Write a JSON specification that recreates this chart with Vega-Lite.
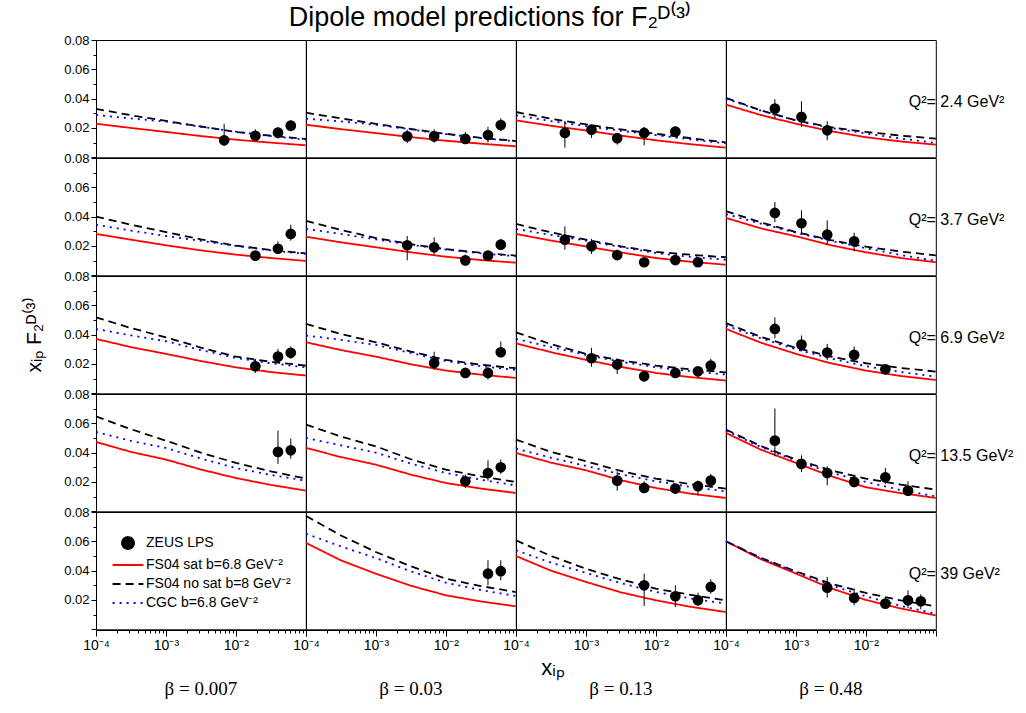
{
"$schema":"https://vega.github.io/schema/vega-lite/v6.json",
"padding":{"left":23,"top":4,"right":5,"bottom":5},
"bounds":"flush",
"title":{"text":"Dipole model predictions for F₂ᴰ⁽³⁾","font":"Liberation Sans","fontSize":27,"fontWeight":"normal","color":"black","anchor":"middle","frame":"bounds","offset":2,"dx":-29},
"data":{"values":[
{"b":1,"q":1,"x":0.0001,"r":0.0229,"d":0.033,"c":0.0289},{"b":1,"q":1,"x":0.000316,"r":0.02,"d":0.0287,"c":0.0265},{"b":1,"q":1,"x":0.001,"r":0.0173,"d":0.0248,"c":0.0243},{"b":1,"q":1,"x":0.00316,"r":0.0145,"d":0.021,"c":0.0208},{"b":1,"q":1,"x":0.01,"r":0.012,"d":0.0173,"c":0.0175},{"b":1,"q":1,"x":0.0316,"r":0.01,"d":0.0147,"c":0.0145},{"b":1,"q":1,"x":0.1,"r":0.0082,"d":0.0125,"c":0.012},
{"b":2,"q":1,"x":0.0001,"r":0.0222,"d":0.0304,"c":0.0263},{"b":2,"q":1,"x":0.000316,"r":0.0192,"d":0.0265,"c":0.0245},{"b":2,"q":1,"x":0.001,"r":0.0165,"d":0.0228,"c":0.0222},{"b":2,"q":1,"x":0.00316,"r":0.0138,"d":0.0193,"c":0.019},{"b":2,"q":1,"x":0.01,"r":0.0113,"d":0.016,"c":0.0158},{"b":2,"q":1,"x":0.0316,"r":0.0093,"d":0.0133,"c":0.0131},{"b":2,"q":1,"x":0.1,"r":0.0075,"d":0.0111,"c":0.0109},
{"b":3,"q":1,"x":0.0001,"r":0.0252,"d":0.0309,"c":0.0286},{"b":3,"q":1,"x":0.000316,"r":0.0215,"d":0.0263,"c":0.0247},{"b":3,"q":1,"x":0.001,"r":0.0183,"d":0.0224,"c":0.0213},{"b":3,"q":1,"x":0.00316,"r":0.0148,"d":0.019,"c":0.0181},{"b":3,"q":1,"x":0.01,"r":0.0116,"d":0.016,"c":0.0151},{"b":3,"q":1,"x":0.0316,"r":0.0089,"d":0.013,"c":0.0122},{"b":3,"q":1,"x":0.1,"r":0.0066,"d":0.0102,"c":0.0095},
{"b":4,"q":1,"x":0.0001,"r":0.0359,"d":0.0405,"c":0.04},{"b":4,"q":1,"x":0.000316,"r":0.0288,"d":0.032,"c":0.0318},{"b":4,"q":1,"x":0.001,"r":0.0229,"d":0.0252,"c":0.025},{"b":4,"q":1,"x":0.00316,"r":0.0178,"d":0.0205,"c":0.02},{"b":4,"q":1,"x":0.01,"r":0.0137,"d":0.0173,"c":0.0163},{"b":4,"q":1,"x":0.0316,"r":0.0108,"d":0.0148,"c":0.0128},{"b":4,"q":1,"x":0.1,"r":0.0086,"d":0.0127,"c":0.0098},
{"b":1,"q":2,"x":0.0001,"r":0.0282,"d":0.04,"c":0.0345},{"b":1,"q":2,"x":0.000316,"r":0.0243,"d":0.0345,"c":0.0305},{"b":1,"q":2,"x":0.001,"r":0.0205,"d":0.0295,"c":0.0268},{"b":1,"q":2,"x":0.00316,"r":0.017,"d":0.0245,"c":0.0235},{"b":1,"q":2,"x":0.01,"r":0.0141,"d":0.0202,"c":0.02},{"b":1,"q":2,"x":0.0316,"r":0.0118,"d":0.0173,"c":0.017},{"b":1,"q":2,"x":0.1,"r":0.0098,"d":0.015,"c":0.0146},
{"b":2,"q":2,"x":0.0001,"r":0.0263,"d":0.0372,"c":0.0316},{"b":2,"q":2,"x":0.000316,"r":0.0225,"d":0.031,"c":0.0282},{"b":2,"q":2,"x":0.001,"r":0.0191,"d":0.0254,"c":0.0245},{"b":2,"q":2,"x":0.00316,"r":0.0157,"d":0.0212,"c":0.0208},{"b":2,"q":2,"x":0.01,"r":0.0127,"d":0.0178,"c":0.0175},{"b":2,"q":2,"x":0.0316,"r":0.0104,"d":0.0154,"c":0.015},{"b":2,"q":2,"x":0.1,"r":0.0086,"d":0.0134,"c":0.013},
{"b":3,"q":2,"x":0.0001,"r":0.0282,"d":0.035,"c":0.0316},{"b":3,"q":2,"x":0.000316,"r":0.0237,"d":0.0293,"c":0.0275},{"b":3,"q":2,"x":0.001,"r":0.0197,"d":0.0243,"c":0.0237},{"b":3,"q":2,"x":0.00316,"r":0.0156,"d":0.0198,"c":0.0192},{"b":3,"q":2,"x":0.01,"r":0.0118,"d":0.016,"c":0.0152},{"b":3,"q":2,"x":0.0316,"r":0.0092,"d":0.014,"c":0.0126},{"b":3,"q":2,"x":0.1,"r":0.0072,"d":0.0123,"c":0.0106},
{"b":4,"q":2,"x":0.0001,"r":0.0391,"d":0.0437,"c":0.0418},{"b":4,"q":2,"x":0.000316,"r":0.032,"d":0.036,"c":0.0352},{"b":4,"q":2,"x":0.001,"r":0.0266,"d":0.0295,"c":0.029},{"b":4,"q":2,"x":0.00316,"r":0.0205,"d":0.024,"c":0.0235},{"b":4,"q":2,"x":0.01,"r":0.0157,"d":0.0195,"c":0.0185},{"b":4,"q":2,"x":0.0316,"r":0.0118,"d":0.0162,"c":0.0138},{"b":4,"q":2,"x":0.1,"r":0.0089,"d":0.0136,"c":0.01},
{"b":1,"q":3,"x":0.0001,"r":0.0371,"d":0.0518,"c":0.0439},{"b":1,"q":3,"x":0.000316,"r":0.0315,"d":0.0445,"c":0.0395},{"b":1,"q":3,"x":0.001,"r":0.0269,"d":0.0382,"c":0.0355},{"b":1,"q":3,"x":0.00316,"r":0.022,"d":0.0312,"c":0.0295},{"b":1,"q":3,"x":0.01,"r":0.0177,"d":0.025,"c":0.0241},{"b":1,"q":3,"x":0.0316,"r":0.0145,"d":0.0215,"c":0.0205},{"b":1,"q":3,"x":0.1,"r":0.0121,"d":0.0189,"c":0.0177},
{"b":2,"q":3,"x":0.0001,"r":0.0348,"d":0.0473,"c":0.0394},{"b":2,"q":3,"x":0.000316,"r":0.0295,"d":0.0405,"c":0.0365},{"b":2,"q":3,"x":0.001,"r":0.025,"d":0.0348,"c":0.033},{"b":2,"q":3,"x":0.00316,"r":0.0198,"d":0.0285,"c":0.0275},{"b":2,"q":3,"x":0.01,"r":0.0155,"d":0.0228,"c":0.022},{"b":2,"q":3,"x":0.0316,"r":0.0127,"d":0.0195,"c":0.0185},{"b":2,"q":3,"x":0.1,"r":0.0105,"d":0.0171,"c":0.016},
{"b":3,"q":3,"x":0.0001,"r":0.0341,"d":0.0416,"c":0.0371},{"b":3,"q":3,"x":0.000316,"r":0.028,"d":0.0335,"c":0.0315},{"b":3,"q":3,"x":0.001,"r":0.0228,"d":0.0269,"c":0.0262},{"b":3,"q":3,"x":0.00316,"r":0.018,"d":0.0225,"c":0.0215},{"b":3,"q":3,"x":0.01,"r":0.0139,"d":0.0189,"c":0.0178},{"b":3,"q":3,"x":0.0316,"r":0.011,"d":0.0163,"c":0.015},{"b":3,"q":3,"x":0.1,"r":0.0087,"d":0.0143,"c":0.0128},
{"b":4,"q":3,"x":0.0001,"r":0.0439,"d":0.0478,"c":0.0462},{"b":4,"q":3,"x":0.000316,"r":0.0345,"d":0.0385,"c":0.0375},{"b":4,"q":3,"x":0.001,"r":0.0269,"d":0.031,"c":0.03},{"b":4,"q":3,"x":0.00316,"r":0.0205,"d":0.025,"c":0.0238},{"b":4,"q":3,"x":0.01,"r":0.0155,"d":0.0205,"c":0.0185},{"b":4,"q":3,"x":0.0316,"r":0.0118,"d":0.0173,"c":0.0145},{"b":4,"q":3,"x":0.1,"r":0.0091,"d":0.0148,"c":0.0114},
{"b":1,"q":4,"x":0.0001,"r":0.0473,"d":0.0648,"c":0.0541},{"b":1,"q":4,"x":0.000316,"r":0.0405,"d":0.056,"c":0.048},{"b":1,"q":4,"x":0.001,"r":0.0353,"d":0.0482,"c":0.0432},{"b":1,"q":4,"x":0.00316,"r":0.0285,"d":0.04,"c":0.036},{"b":1,"q":4,"x":0.01,"r":0.0227,"d":0.033,"c":0.0295},{"b":1,"q":4,"x":0.0316,"r":0.018,"d":0.0273,"c":0.0248},{"b":1,"q":4,"x":0.1,"r":0.0141,"d":0.0223,"c":0.0209},
{"b":2,"q":4,"x":0.0001,"r":0.0432,"d":0.0591,"c":0.05},{"b":2,"q":4,"x":0.000316,"r":0.037,"d":0.051,"c":0.045},{"b":2,"q":4,"x":0.001,"r":0.0318,"d":0.0443,"c":0.04},{"b":2,"q":4,"x":0.00316,"r":0.025,"d":0.0355,"c":0.0325},{"b":2,"q":4,"x":0.01,"r":0.0193,"d":0.0284,"c":0.0262},{"b":2,"q":4,"x":0.0316,"r":0.0155,"d":0.0238,"c":0.0215},{"b":2,"q":4,"x":0.1,"r":0.0125,"d":0.02,"c":0.0177},
{"b":3,"q":4,"x":0.0001,"r":0.0398,"d":0.0489,"c":0.0428},{"b":3,"q":4,"x":0.000316,"r":0.0332,"d":0.0405,"c":0.0365},{"b":3,"q":4,"x":0.001,"r":0.028,"d":0.0341,"c":0.031},{"b":3,"q":4,"x":0.00316,"r":0.0212,"d":0.0275,"c":0.0252},{"b":3,"q":4,"x":0.01,"r":0.0159,"d":0.0223,"c":0.0205},{"b":3,"q":4,"x":0.0316,"r":0.012,"d":0.0185,"c":0.0166},{"b":3,"q":4,"x":0.1,"r":0.0091,"d":0.0155,"c":0.0136},
{"b":4,"q":4,"x":0.0001,"r":0.0534,"d":0.0557,"c":0.055},{"b":4,"q":4,"x":0.000316,"r":0.042,"d":0.0445,"c":0.0438},{"b":4,"q":4,"x":0.001,"r":0.033,"d":0.0353,"c":0.0345},{"b":4,"q":4,"x":0.00316,"r":0.024,"d":0.028,"c":0.0265},{"b":4,"q":4,"x":0.01,"r":0.0164,"d":0.0223,"c":0.02},{"b":4,"q":4,"x":0.0316,"r":0.0124,"d":0.0182,"c":0.0145},{"b":4,"q":4,"x":0.1,"r":0.0091,"d":0.0148,"c":0.0102},
{"b":2,"q":5,"x":0.0001,"r":0.0589,"d":0.0773,"c":0.0652},{"b":2,"q":5,"x":0.000316,"r":0.047,"d":0.064,"c":0.0565},{"b":2,"q":5,"x":0.001,"r":0.0379,"d":0.0527,"c":0.0486},{"b":2,"q":5,"x":0.00316,"r":0.0297,"d":0.043,"c":0.0395},{"b":2,"q":5,"x":0.01,"r":0.0232,"d":0.0345,"c":0.0318},{"b":2,"q":5,"x":0.0316,"r":0.019,"d":0.0295,"c":0.0268},{"b":2,"q":5,"x":0.1,"r":0.0157,"d":0.0254,"c":0.0227},
{"b":3,"q":5,"x":0.0001,"r":0.05,"d":0.0607,"c":0.0539},{"b":3,"q":5,"x":0.000316,"r":0.04,"d":0.05,"c":0.0455},{"b":3,"q":5,"x":0.001,"r":0.0323,"d":0.0413,"c":0.0385},{"b":3,"q":5,"x":0.00316,"r":0.0252,"d":0.034,"c":0.0315},{"b":3,"q":5,"x":0.01,"r":0.0198,"d":0.0277,"c":0.0255},{"b":3,"q":5,"x":0.0316,"r":0.0153,"d":0.0235,"c":0.021},{"b":3,"q":5,"x":0.1,"r":0.0118,"d":0.0198,"c":0.0175},
{"b":4,"q":5,"x":0.0001,"r":0.06,"d":0.06,"c":0.06},{"b":4,"q":5,"x":0.000316,"r":0.0478,"d":0.0487,"c":0.0483},{"b":4,"q":5,"x":0.001,"r":0.038,"d":0.0395,"c":0.039},{"b":4,"q":5,"x":0.00316,"r":0.028,"d":0.0312,"c":0.03},{"b":4,"q":5,"x":0.01,"r":0.02,"d":0.0248,"c":0.0225},{"b":4,"q":5,"x":0.0316,"r":0.0142,"d":0.0197,"c":0.016},{"b":4,"q":5,"x":0.1,"r":0.0095,"d":0.0157,"c":0.0106},
{"b":1,"q":5},
{"b":1,"q":1,"x":0.0068,"p":0.0116,"lo":0.0078,"hi":0.0229},{"b":1,"q":1,"x":0.019,"p":0.0147,"lo":0.0116,"hi":0.0191},{"b":1,"q":1,"x":0.04,"p":0.0168,"lo":0.0127,"hi":0.0207},{"b":1,"q":1,"x":0.061,"p":0.0216,"lo":0.0177,"hi":0.0252},
{"b":2,"q":1,"x":0.0028,"p":0.0143,"lo":0.0098,"hi":0.0188},{"b":2,"q":1,"x":0.0068,"p":0.0143,"lo":0.01,"hi":0.0191},{"b":2,"q":1,"x":0.019,"p":0.0125,"lo":0.0093,"hi":0.0171},{"b":2,"q":1,"x":0.04,"p":0.0152,"lo":0.01,"hi":0.0207},{"b":2,"q":1,"x":0.061,"p":0.022,"lo":0.0179,"hi":0.0266},
{"b":3,"q":1,"x":0.0005,"p":0.0166,"lo":0.0066,"hi":0.0248},{"b":3,"q":1,"x":0.0012,"p":0.0188,"lo":0.0132,"hi":0.0222},{"b":3,"q":1,"x":0.0028,"p":0.013,"lo":0.0086,"hi":0.0161},{"b":3,"q":1,"x":0.0068,"p":0.0166,"lo":0.0082,"hi":0.0207},{"b":3,"q":1,"x":0.019,"p":0.0175,"lo":0.0143,"hi":0.0211},
{"b":4,"q":1,"x":0.0005,"p":0.0332,"lo":0.0261,"hi":0.0396},{"b":4,"q":1,"x":0.0012,"p":0.0275,"lo":0.0207,"hi":0.0382},{"b":4,"q":1,"x":0.0028,"p":0.0184,"lo":0.0116,"hi":0.0246},
{"b":1,"q":2,"x":0.019,"p":0.0134,"lo":0.0106,"hi":0.0157},{"b":1,"q":2,"x":0.04,"p":0.0181,"lo":0.0145,"hi":0.0232},{"b":1,"q":2,"x":0.061,"p":0.0282,"lo":0.0236,"hi":0.0345},
{"b":2,"q":2,"x":0.0028,"p":0.0205,"lo":0.0102,"hi":0.0268},{"b":2,"q":2,"x":0.0068,"p":0.0191,"lo":0.0141,"hi":0.0259},{"b":2,"q":2,"x":0.019,"p":0.0102,"lo":0.0068,"hi":0.0141},{"b":2,"q":2,"x":0.04,"p":0.0134,"lo":0.0106,"hi":0.0164},{"b":2,"q":2,"x":0.061,"p":0.0209,"lo":0.0181,"hi":0.0248},
{"b":3,"q":2,"x":0.0005,"p":0.0243,"lo":0.0175,"hi":0.0334},{"b":3,"q":2,"x":0.0012,"p":0.0198,"lo":0.0145,"hi":0.0248},{"b":3,"q":2,"x":0.0028,"p":0.0138,"lo":0.0106,"hi":0.0175},{"b":3,"q":2,"x":0.0068,"p":0.0089,"lo":0.0081,"hi":0.0097},{"b":3,"q":2,"x":0.019,"p":0.0104,"lo":0.0096,"hi":0.0112},{"b":3,"q":2,"x":0.04,"p":0.0089,"lo":0.0079,"hi":0.0099},
{"b":4,"q":2,"x":0.0005,"p":0.0425,"lo":0.0362,"hi":0.05},{"b":4,"q":2,"x":0.0012,"p":0.0355,"lo":0.0286,"hi":0.0443},{"b":4,"q":2,"x":0.0028,"p":0.0277,"lo":0.0205,"hi":0.0375},{"b":4,"q":2,"x":0.0068,"p":0.0232,"lo":0.0164,"hi":0.0291},
{"b":1,"q":3,"x":0.019,"p":0.0184,"lo":0.0139,"hi":0.0235},{"b":1,"q":3,"x":0.04,"p":0.025,"lo":0.0211,"hi":0.0303},{"b":1,"q":3,"x":0.061,"p":0.0276,"lo":0.0235,"hi":0.0319},
{"b":2,"q":3,"x":0.0068,"p":0.0207,"lo":0.016,"hi":0.0284},{"b":2,"q":3,"x":0.019,"p":0.0139,"lo":0.013,"hi":0.015},{"b":2,"q":3,"x":0.04,"p":0.0139,"lo":0.0093,"hi":0.0177},{"b":2,"q":3,"x":0.061,"p":0.028,"lo":0.0246,"hi":0.0353},
{"b":3,"q":3,"x":0.0012,"p":0.0239,"lo":0.0182,"hi":0.031},{"b":3,"q":3,"x":0.0028,"p":0.0196,"lo":0.0132,"hi":0.0235},{"b":3,"q":3,"x":0.0068,"p":0.0116,"lo":0.0108,"hi":0.0124},{"b":3,"q":3,"x":0.019,"p":0.0139,"lo":0.0116,"hi":0.015},{"b":3,"q":3,"x":0.04,"p":0.015,"lo":0.0109,"hi":0.0177},{"b":3,"q":3,"x":0.061,"p":0.0189,"lo":0.015,"hi":0.0235},
{"b":4,"q":3,"x":0.0005,"p":0.0439,"lo":0.0375,"hi":0.0518},{"b":4,"q":3,"x":0.0012,"p":0.0332,"lo":0.0287,"hi":0.0394},{"b":4,"q":3,"x":0.0028,"p":0.0278,"lo":0.0228,"hi":0.0337},{"b":4,"q":3,"x":0.0068,"p":0.0262,"lo":0.0218,"hi":0.0319},{"b":4,"q":3,"x":0.019,"p":0.0164,"lo":0.0128,"hi":0.0189},
{"b":1,"q":4,"x":0.04,"p":0.0405,"lo":0.0323,"hi":0.055},{"b":1,"q":4,"x":0.061,"p":0.0416,"lo":0.0359,"hi":0.0496},
{"b":2,"q":4,"x":0.019,"p":0.0205,"lo":0.0159,"hi":0.025},{"b":2,"q":4,"x":0.04,"p":0.0261,"lo":0.0209,"hi":0.0348},{"b":2,"q":4,"x":0.061,"p":0.03,"lo":0.0255,"hi":0.0353},
{"b":3,"q":4,"x":0.0028,"p":0.0209,"lo":0.0141,"hi":0.0273},{"b":3,"q":4,"x":0.0068,"p":0.0159,"lo":0.0125,"hi":0.0205},{"b":3,"q":4,"x":0.019,"p":0.0155,"lo":0.0125,"hi":0.0182},{"b":3,"q":4,"x":0.04,"p":0.0171,"lo":0.0109,"hi":0.0209},{"b":3,"q":4,"x":0.061,"p":0.0209,"lo":0.0159,"hi":0.0255},
{"b":4,"q":4,"x":0.0005,"p":0.0482,"lo":0.0375,"hi":0.0701},{"b":4,"q":4,"x":0.0012,"p":0.0323,"lo":0.0268,"hi":0.0382},{"b":4,"q":4,"x":0.0028,"p":0.0261,"lo":0.0177,"hi":0.0307},{"b":4,"q":4,"x":0.0068,"p":0.02,"lo":0.0164,"hi":0.025},{"b":4,"q":4,"x":0.019,"p":0.0232,"lo":0.0186,"hi":0.0295},{"b":4,"q":4,"x":0.04,"p":0.0141,"lo":0.0109,"hi":0.0205},
{"b":2,"q":5,"x":0.04,"p":0.0379,"lo":0.03,"hi":0.0471},{"b":2,"q":5,"x":0.061,"p":0.0396,"lo":0.0334,"hi":0.0471},
{"b":3,"q":5,"x":0.0068,"p":0.03,"lo":0.0159,"hi":0.0379},{"b":3,"q":5,"x":0.019,"p":0.0225,"lo":0.0152,"hi":0.03},{"b":3,"q":5,"x":0.04,"p":0.0198,"lo":0.0164,"hi":0.025},{"b":3,"q":5,"x":0.061,"p":0.0289,"lo":0.0243,"hi":0.0341},
{"b":4,"q":5,"x":0.0028,"p":0.0284,"lo":0.0216,"hi":0.0357},{"b":4,"q":5,"x":0.0068,"p":0.0214,"lo":0.0164,"hi":0.0261},{"b":4,"q":5,"x":0.019,"p":0.0175,"lo":0.0145,"hi":0.0216},{"b":4,"q":5,"x":0.04,"p":0.0198,"lo":0.0145,"hi":0.0266},{"b":4,"q":5,"x":0.061,"p":0.0191,"lo":0.0136,"hi":0.0239}
]},
"facet":{
 "column":{"field":"b","type":"ordinal","title":"xᵢₚ","header":{"labelOrient":"bottom","titleOrient":"bottom","labelExpr":"['','β = 0.007','β = 0.03','β = 0.13','β = 0.48'][datum.value]","labelFont":"Liberation Serif","labelFontSize":19,"labelColor":"black","labelPadding":28,"titleFont":"Liberation Sans","titleFontSize":22,"titleFontWeight":"normal","titleColor":"black","titlePadding":-51}},
 "row":{"field":"q","type":"ordinal","title":"xᵢₚ F₂ᴰ⁽³⁾\u2002\u2002\u2002\u2002\u2002\u2002","header":{"labels":false,"titleOrient":"left","titleFont":"Liberation Sans","titleFontSize":21,"titleFontWeight":"normal","titleColor":"black","titlePadding":8}}
},
"spacing":{"row":0,"column":0},
"spec":{
 "width":209.8,"height":117.3,
 "encoding":{
  "x":{"field":"x","type":"quantitative","title":null,"scale":{"type":"log","domain":[0.0001,0.1]},
   "axis":{"values":[0.0001,0.0002,0.0003,0.0004,0.0005,0.0006,0.0007,0.0008,0.0009,0.001,0.002,0.003,0.004,0.005,0.006,0.007,0.008,0.009,0.01,0.02,0.03,0.04,0.05,0.06,0.07,0.08,0.09,0.1],
    "labelExpr":"abs(datum.value-0.0001)<0.000001 ? '10⁻⁴' : (abs(datum.value-0.001)<0.00001 ? '10⁻³' : (abs(datum.value-0.01)<0.0001 ? '10⁻²' : ''))",
    "labelFlush":false,"labelOverlap":false,"labelFontSize":14,
    "tickSize":{"condition":{"test":"abs(log(datum.value)/LN10 - round(log(datum.value)/LN10)) < 0.001","value":6},"value":3}}},
  "y":{"type":"quantitative","title":null,"scale":{"domain":[0,0.08],"nice":false},
   "axis":{"values":[0,0.01,0.02,0.03,0.04,0.05,0.06,0.07,0.08],
    "labelExpr":"(datum.value > 0.001 && abs(datum.value*50 - round(datum.value*50)) < 0.01) ? format(datum.value, '.2f') : ''",
    "labelOverlap":false,
    "tickSize":{"condition":{"test":"abs(datum.value*50 - round(datum.value*50)) < 0.01","value":5},"value":3}}}
 },
 "layer":[
  {"transform":[{"filter":"isValid(datum.r)"},{"fold":["r","d","c"],"as":["m","f"]}],
   "mark":{"type":"line","strokeWidth":1.8},
   "encoding":{
    "y":{"field":"f","type":"quantitative","title":null},
    "color":{"field":"m","type":"nominal","scale":{"domain":["z","r","d","c"],"range":["black","#ff0000","black","#0000ff"]},
     "legend":{"orient":"none","legendX":24,"legendY":495,"title":null,"symbolType":"stroke","symbolSize":196,"symbolStrokeWidth":2,"labelFont":"Liberation Sans","labelFontSize":14,"labelColor":"black","rowPadding":4,"labelOffset":10,
      "labelExpr":"datum.value == 'z' ? 'ZEUS LPS' : (datum.value == 'r' ? 'FS04 sat b=6.8 GeV⁻²' : (datum.value == 'd' ? 'FS04 no sat b=8 GeV⁻²' : 'CGC b=6.8 GeV⁻²'))",
      "encode":{"symbols":{"update":{"shape":{"signal":"datum.value === 'z' ? 'circle' : 'M-2.2,0H2.2'"},"size":{"signal":"datum.value === 'z' ? 140 : 196"},"fill":{"signal":"datum.value === 'z' ? 'black' : 'transparent'"}}}}}},
    "strokeDash":{"field":"m","type":"nominal","scale":{"domain":["z","r","d","c"],"range":[[1,0],[1,0],[8,5],[2,5]]},
     "legend":{"orient":"none","legendX":24,"legendY":495,"title":null,"symbolType":"stroke","symbolSize":196,"symbolStrokeWidth":2,"labelFont":"Liberation Sans","labelFontSize":14,"labelColor":"black","rowPadding":4,"labelOffset":10,
      "labelExpr":"datum.value == 'z' ? 'ZEUS LPS' : (datum.value == 'r' ? 'FS04 sat b=6.8 GeV⁻²' : (datum.value == 'd' ? 'FS04 no sat b=8 GeV⁻²' : 'CGC b=6.8 GeV⁻²'))",
      "encode":{"symbols":{"update":{"shape":{"signal":"datum.value === 'z' ? 'circle' : 'M-2.2,0H2.2'"},"size":{"signal":"datum.value === 'z' ? 140 : 196"},"fill":{"signal":"datum.value === 'z' ? 'black' : 'transparent'"}}}}}}
   }},
  {"transform":[{"filter":"isValid(datum.p)"}],
   "mark":{"type":"rule","color":"black","strokeWidth":1},
   "encoding":{"y":{"field":"lo","type":"quantitative","title":null},"y2":{"field":"hi"}}},
  {"transform":[{"filter":"isValid(datum.p)"}],
   "mark":{"type":"point","filled":true,"color":"black","size":115,"opacity":1},
   "encoding":{"y":{"field":"p","type":"quantitative","title":null}}},
  {"transform":[{"filter":"datum.b == 4 && datum.x == 0.1 && isValid(datum.r)"}],
   "mark":{"type":"text","align":"left","baseline":"middle","dx":-27,"font":"Liberation Sans","fontSize":16,"color":"black"},
   "encoding":{"y":{"datum":0.038},"text":{"condition":[{"test":"datum.q == 1","value":"Q²= 2.4 GeV²"},{"test":"datum.q == 2","value":"Q²= 3.7 GeV²"},{"test":"datum.q == 3","value":"Q²= 6.9 GeV²"},{"test":"datum.q == 4","value":"Q²= 13.5 GeV²"}],"value":"Q²= 39 GeV²"}}}
 ]
},
"config":{
 "font":"Liberation Sans",
 "view":{"stroke":"black","strokeWidth":1},
 "axis":{"grid":false,"domainColor":"black","tickColor":"black","labelColor":"black","titleColor":"black","labelFont":"Liberation Sans","labelFontSize":13,"titleFont":"Liberation Sans","titleFontSize":21,"titleFontWeight":"normal","labelPadding":2}
}
}
